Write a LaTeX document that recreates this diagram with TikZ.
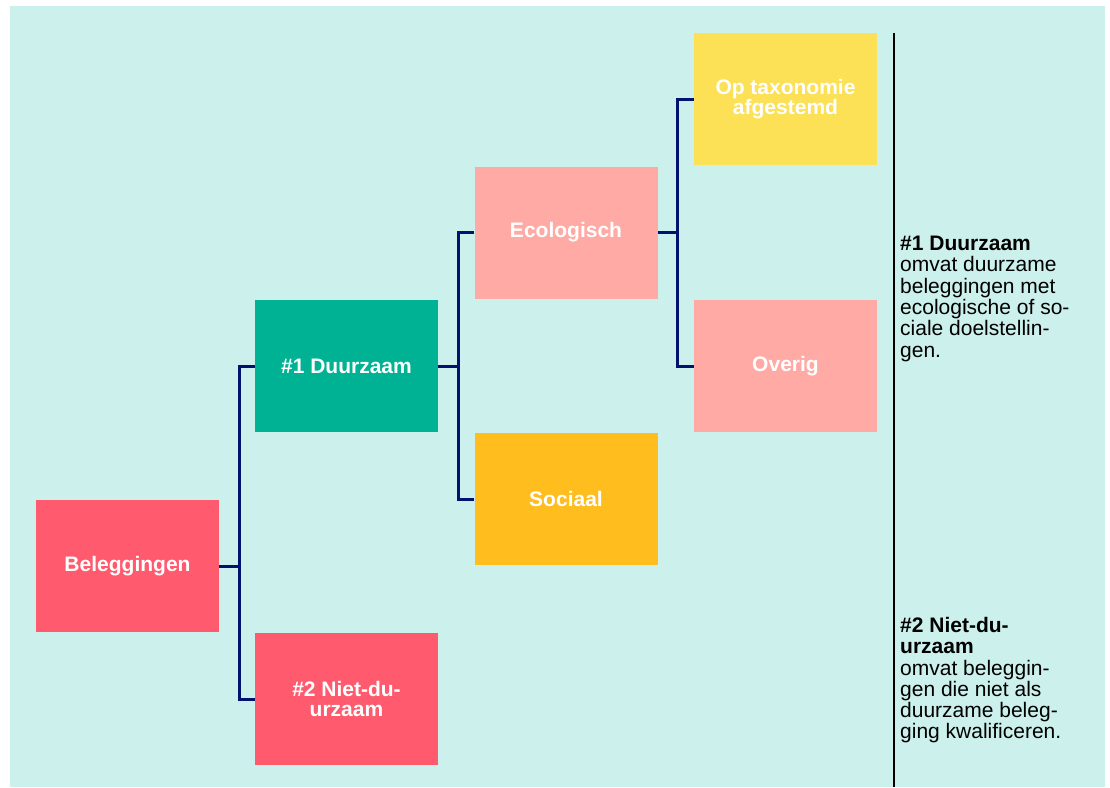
\documentclass[tikz,border=0pt]{standalone}
\usepackage{fontspec}
\setmainfont{Liberation Sans}
\definecolor{bgc}{RGB}{204,240,236}
\definecolor{navy}{RGB}{0,18,110}
\definecolor{cRed}{RGB}{255,90,110}
\definecolor{cTeal}{RGB}{0,178,148}
\definecolor{cPink}{RGB}{255,170,165}
\definecolor{cOrange}{RGB}{255,190,30}
\definecolor{cYellow}{RGB}{252,224,85}
\tikzset{
  box/.style={rectangle, minimum width=183pt, minimum height=132pt, inner sep=0pt,
    text=white, align=center, font=\fontsize{21}{20}\selectfont\bfseries},
  conn/.style={draw=navy, line width=3pt},
  note/.style={anchor=north west, inner sep=0pt, align=left, text=black,
    font=\fontsize{21}{21.3}\selectfont}
}
\begin{document}
\begin{tikzpicture}[x=1pt,y=-1pt]
\useasboundingbox (0,0) rectangle (1110,787);
\fill[bgc] (10,6) rectangle (1105,787);
\node[box, fill=cRed] (bel) at (127.5,566) {Beleggingen};
\node[box, fill=cTeal] (d1) at (346.5,366) {\#1 Duurzaam};
\node[box, fill=cRed] (d2) at (346.5,699) {\#2 Niet-du-\\urzaam};
\node[box, fill=cPink] (eco) at (566,232.5) {Ecologisch};
\node[box, fill=cOrange] (soc) at (566,499) {Sociaal};
\node[box, fill=cYellow] (tax) at (785.5,99) {Op taxonomie\\afgestemd};
\node[box, fill=cPink] (ov) at (785.5,366) {Overig};
\draw[conn] (bel.east) -- ++(20,0) coordinate (j1);
\draw[conn] (d1.west) -| (j1) |- (d2.west);
\draw[conn] (d1.east) -- ++(20,0) coordinate (j2);
\draw[conn] (eco.west) -| (j2) |- (soc.west);
\draw[conn] (eco.east) -- ++(20,0) coordinate (j3);
\draw[conn] (tax.west) -| (j3) |- (ov.west);
\coordinate (sepTop) at (894,33);
\coordinate (sepBot) at (894,787);
\draw[black, line width=1.3pt] (sepTop) -- (sepBot);
\node[note] (n1) at (900,236) {\textbf{\#1 Duurzaam}\\omvat duurzame\\beleggingen met\\ecologische of so-\\ciale doelstellin-\\gen.};
\node[note] (n2) at (900,617) {\textbf{\#2 Niet-du-}\\\textbf{urzaam}\\omvat beleggin-\\gen die niet als\\duurzame beleg-\\ging kwalificeren.};
\end{tikzpicture}
\end{document}
